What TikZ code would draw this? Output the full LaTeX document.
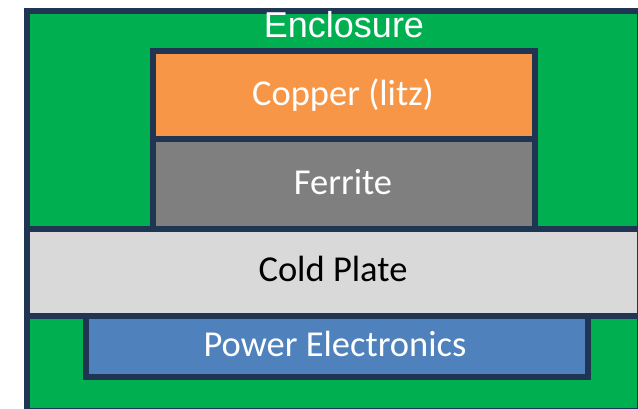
\documentclass[tikz,border=0pt]{standalone}
\usepackage{fontspec}
\setmainfont{Carlito}
\newfontfamily\arialf{Liberation Sans}
\definecolor{encgreen}{HTML}{00B050}
\definecolor{copperc}{HTML}{F79646}
\definecolor{ferritec}{HTML}{7F7F7F}
\definecolor{coldc}{HTML}{D9D9D9}
\definecolor{pec}{HTML}{4F81BD}
\definecolor{navy}{HTML}{1F3552}
\begin{document}
\begin{tikzpicture}[x=1pt,y=1pt,
  box/.style={draw=navy, line width=6pt, rectangle, inner sep=0pt, outer sep=0pt, anchor=south west},
  lbl/.style={anchor=base, inner sep=0pt, font=\fontsize{36.5}{40}\selectfont, text=white}]
\useasboundingbox (0,0) rectangle (638,409);
\clip (0,0) rectangle (638,409);
\fill[white] (0,0) rectangle (638,409);
\node[box, fill=encgreen, minimum width=613pt, minimum height=400pt] (enc) at (27,-2) {};
\node[box, fill=copperc, minimum width=382pt, minimum height=88pt] (copper) at (153,270) {};
\node[box, fill=ferritec, minimum width=382pt, minimum height=90pt] (ferrite) at (153,180) {};
\node[box, fill=coldc, minimum width=613pt, minimum height=87pt] (cold) at (27,93) {};
\node[box, fill=pec, minimum width=502pt, minimum height=61pt] (pe) at (86,32) {};
\node[lbl, font=\arialf\fontsize{36}{40}\selectfont] (enctext) at (344,371) {Enclosure};
\node[lbl] (coppertext) at (343,303) {Copper (litz)};
\node[lbl] (ferritetext) at (343,214) {Ferrite};
\node[lbl, text=black] (coldtext) at (333,127) {Cold Plate};
\node[lbl] (petext) at (335,52) {Power Electronics};
\end{tikzpicture}
\end{document}
